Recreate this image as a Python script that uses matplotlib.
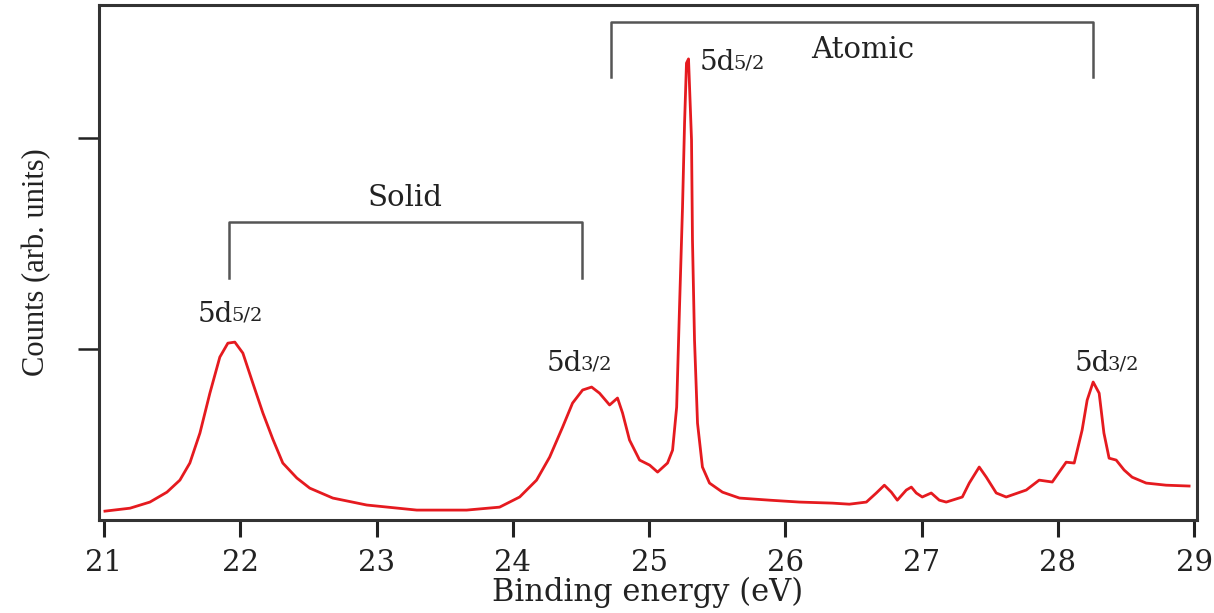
#!/usr/bin/env python3
# Photoemission spectrum: solid vs atomic 5d levels
import matplotlib
matplotlib.use('Agg')
import matplotlib.pyplot as plt

plt.rcParams['font.family'] = ['DejaVu Serif']

# binding energy (eV) and counts (arb. units)
energy = [21.007, 21.191, 21.337, 21.462, 21.557, 21.630, 21.704, 21.777, 21.850,
          21.909, 21.960, 22.019, 22.092, 22.166, 22.239, 22.312, 22.415, 22.510,
          22.679, 22.928, 23.295, 23.661, 23.903, 24.050, 24.174, 24.270, 24.365,
          24.438, 24.512, 24.578, 24.636, 24.710, 24.768, 24.805, 24.856, 24.930,
          25.004, 25.062, 25.135, 25.172, 25.202, 25.223, 25.245, 25.260, 25.274,
          25.289, 25.311, 25.318, 25.333, 25.355, 25.391, 25.443, 25.538, 25.663,
          25.883, 26.103, 26.345, 26.469, 26.594, 26.667, 26.726, 26.777, 26.821,
          26.887, 26.924, 26.960, 27.004, 27.070, 27.129, 27.180, 27.298, 27.349,
          27.422, 27.474, 27.547, 27.620, 27.767, 27.862, 27.958, 28.060, 28.119,
          28.177, 28.214, 28.258, 28.302, 28.337, 28.375, 28.427, 28.485, 28.544,
          28.647, 28.793, 28.962]
counts = [0.232, 0.246, 0.275, 0.322, 0.379, 0.460, 0.602, 0.791, 0.962,
          1.028, 1.033, 0.981, 0.839, 0.697, 0.573, 0.460, 0.389, 0.341,
          0.294, 0.261, 0.237, 0.237, 0.251, 0.299, 0.379, 0.488, 0.630,
          0.744, 0.806, 0.820, 0.791, 0.735, 0.768, 0.697, 0.569, 0.474,
          0.450, 0.417, 0.460, 0.521, 0.725, 1.199, 1.673, 2.071, 2.355,
          2.375, 1.991, 1.517, 1.043, 0.649, 0.441, 0.365, 0.322, 0.294,
          0.284, 0.275, 0.270, 0.265, 0.275, 0.318, 0.355, 0.322, 0.284,
          0.332, 0.346, 0.318, 0.299, 0.318, 0.284, 0.275, 0.299, 0.365,
          0.441, 0.393, 0.318, 0.299, 0.332, 0.379, 0.370, 0.464, 0.460,
          0.616, 0.758, 0.844, 0.791, 0.602, 0.483, 0.474, 0.427, 0.393,
          0.365, 0.355, 0.351]

x_ticks = [21, 22, 23, 24, 25, 26, 27, 28, 29]
y_ticks = [1, 2]

# brackets: (left E, right E, bar height, leg bottom, title, title E, title height)
groups = [(21.92, 24.51, 1.602, 1.336, 'Solid', 23.21, 1.716),
          (24.72, 28.26, 2.550, 2.289, 'Atomic', 26.57, 2.417)]

# peak labels: (E, height, j)
peak_labels = [(21.69, 1.165, '5/2'), (24.25, 0.93, '3/2'),
               (25.37, 2.36, '5/2'), (28.12, 0.93, '3/2')]

fig = plt.figure(figsize=(12.14, 6.13), dpi=100)
ax = fig.add_axes([0.0815, 0.1517, 0.9045, 0.840])

ax.plot(energy, counts, color='#e51a1f', lw=2.0, solid_joinstyle='round')

ax.set_xlim(20.963, 29.02)
ax.set_ylim(0.19, 2.63)
ax.set_xticks(x_ticks)
ax.set_yticks(y_ticks)
ax.set_yticklabels([])
ax.tick_params(axis='x', direction='out', length=12, width=2.2, labelsize=21,
               colors='#222222', pad=9)
ax.tick_params(axis='y', direction='out', length=15, width=1.8, colors='#222222')
for s in ax.spines.values():
    s.set_linewidth(2.2)
    s.set_color('#333333')

ax.set_xlabel('Binding energy (eV)', fontsize=22, color='#222222', labelpad=0)
ax.set_ylabel('Counts (arb. units)', fontsize=22, color='#222222', labelpad=16,
              family='Liberation Serif')

for e0, e1, top, bot, name, tx, ty in groups:
    ax.plot([e0, e0, e1, e1], [bot, top, top, bot], color='#555555', lw=1.8)
    ax.text(tx, ty, name, ha='center', va='center', fontsize=21, color='#222222')

for e, h, lev in peak_labels:
    t = ax.text(e, h, '5d', ha='left', va='center', fontsize=20, color='#222222')
    ax.annotate(lev, xy=(0.95, 0.13), xycoords=t, ha='left', va='bottom',
                fontsize=14, color='#222222')

fig.savefig('out.png', dpi=100)
